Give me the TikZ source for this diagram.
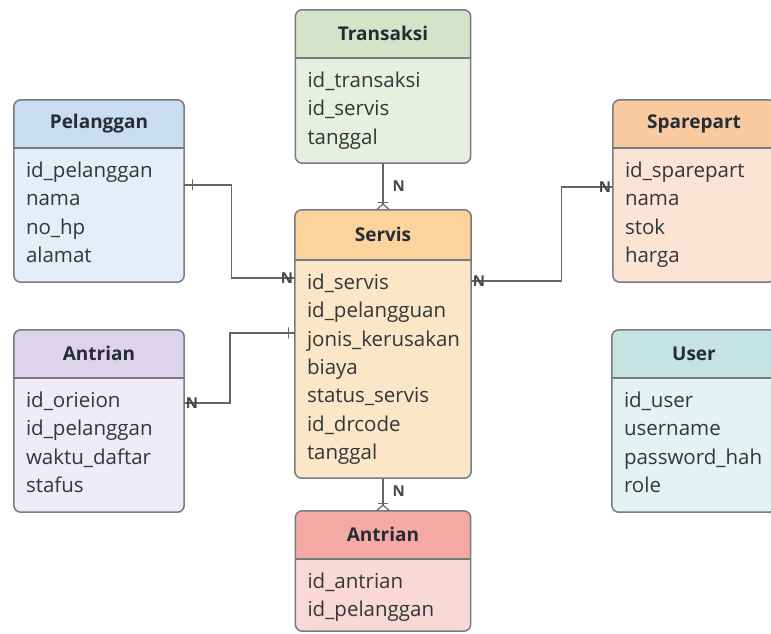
\documentclass[tikz,border=0pt]{standalone}
\usepackage{fontspec}
\setmainfont{Open Sans}
\usepackage{xcolor}
\usepackage{tikz}
\usetikzlibrary{arrows.meta,positioning}
\definecolor{pelhead}{HTML}{C9DDF1}
\definecolor{pelbody}{HTML}{E4EEF8}
\definecolor{trahead}{HTML}{D5E4C9}
\definecolor{trabody}{HTML}{E8EFE0}
\definecolor{spahead}{HTML}{F9C9A0}
\definecolor{spabody}{HTML}{FCE4D4}
\definecolor{serhead}{HTML}{FAD49C}
\definecolor{serbody}{HTML}{FCE6C8}
\definecolor{anthead}{HTML}{DDD4EC}
\definecolor{antbody}{HTML}{EFEBF6}
\definecolor{usrhead}{HTML}{C4E3E1}
\definecolor{usrbody}{HTML}{E4F2F1}
\definecolor{qhead}{HTML}{F5A9A5}
\definecolor{qbody}{HTML}{F9D9D6}
\definecolor{boxlinec}{HTML}{767B82}
\definecolor{relc}{HTML}{666666}
\definecolor{titlec}{HTML}{252C35}
\definecolor{fieldc}{HTML}{33363A}
\tikzset{
  entitybox/.style={rectangle, rounded corners=7pt, inner sep=0pt},
  entityline/.style={draw=boxlinec, line width=1.5pt},
  etitle/.style={font=\fontsize{19}{22}\selectfont\bfseries, text=titlec},
  efield/.style={font=\fontsize{20.5}{28.3}\selectfont, text=fieldc, align=left,
    anchor=north west, inner sep=0pt},
  relline/.style={draw=relc, line width=1.4pt},
  crowfoot/.style={-{Bar[width=10pt,line width=1.2pt] Straight Barb[reversed,length=5pt,width=12pt,line width=1.2pt]}},
  tickmark/.style={draw=relc, fill=relc, line width=1.2pt, minimum width=0pt,
    minimum height=11pt, inner sep=0pt},
  cardn/.style={font=\fontsize{15}{15}\selectfont\bfseries, text=relc!70!black, inner sep=0pt},
}
% #1 name, #2 centre, #3 width, #4 height, #5 colour prefix, #6 title, #7 fields, #8 header height
\newcommand{\erentity}[8]{%
  \node[entitybox, fill=#5body, minimum width=#3pt, minimum height=#4pt] (#1) at #2 {};
  \fill[#5head] ([yshift=-#8pt]#1.north west) [rounded corners=7pt] -- (#1.north west)
    -- (#1.north east) [sharp corners] -- ([yshift=-#8pt]#1.north east) -- cycle;
  \draw[entityline, rounded corners=7pt] (#1.north west) rectangle (#1.south east);
  \draw[entityline] ([yshift=-#8pt]#1.north west) -- ([yshift=-#8pt]#1.north east);
  \node[etitle] (#1-title) at ([yshift=-#8pt/2]#1.north) {#6};
  \node[efield] (#1-fields) at ([xshift=12pt, yshift=-#8pt-14pt]#1.north west) {#7};
}

\begin{document}
\begin{tikzpicture}[x=1pt, y=-1pt]
  \useasboundingbox (0,0) rectangle (771,634);
  \clip (0,0) rectangle (771,634);
  \fill[white] (0,0) rectangle (771,634);

  % entities
  \erentity{tra}{(383,86.5)}{175}{153}{tra}{Transaksi}
    {id\_transaksi\\id\_servis\\tanggal}{48}
  \erentity{pel}{(99,191)}{170}{182}{pel}{Pelanggan}
    {id\_pelanggan\\nama\\no\_hp\\alamat}{48}
  \erentity{spa}{(694,191)}{162}{182}{spa}{Sparepart}
    {id\_sparepart\\nama\\stok\\harga}{48}
  \erentity{ser}{(383,344)}{176}{268}{ser}{Servis}
    {id\_servis\\id\_pelangguan\\jonis\_kerusakan\\biaya\\status\_servis\\id\_drcode\\tanggal}{50}
  \erentity{ant}{(99,421)}{170}{182}{ant}{Antrian}
    {id\_orieion\\id\_pelanggan\\waktu\_daftar\\stafus}{48}
  \erentity{usr}{(694,421)}{164}{182}{usr}{User}
    {id\_user\\username\\password\_hah\\role}{48}
  \erentity{que}{(383,571)}{175}{120}{q}{Antrian}
    {id\_antrian\\id\_pelanggan}{48}

  % relations
  \draw[relline] ([yshift=-85pt]pel.north east) -- node[tickmark, pos=0.17] {} ++(47,0)
    |- ([yshift=-68pt]ser.north west) node[cardn, left=1pt] {N};
  \draw[relline] ([yshift=-71pt]ser.north east) node[cardn, right=1pt] {N} -- ++(90,0)
    |- ([yshift=-87pt]spa.north west) node[cardn, left=1pt] {N};
  \draw[relline] ([yshift=-123pt]ser.north west) -- node[tickmark, pos=0.1] {} ++(-65,0)
    |- ([yshift=-73pt]ant.north east) node[cardn, right=1pt] {N};
  \draw[relline, crowfoot] (tra.south) -- node[cardn, right=9pt] {N} (ser.north);
  \draw[relline, crowfoot] (ser.south) -- node[cardn, right=9pt, pos=0.4] {N} (que.north);
\end{tikzpicture}
\end{document}
